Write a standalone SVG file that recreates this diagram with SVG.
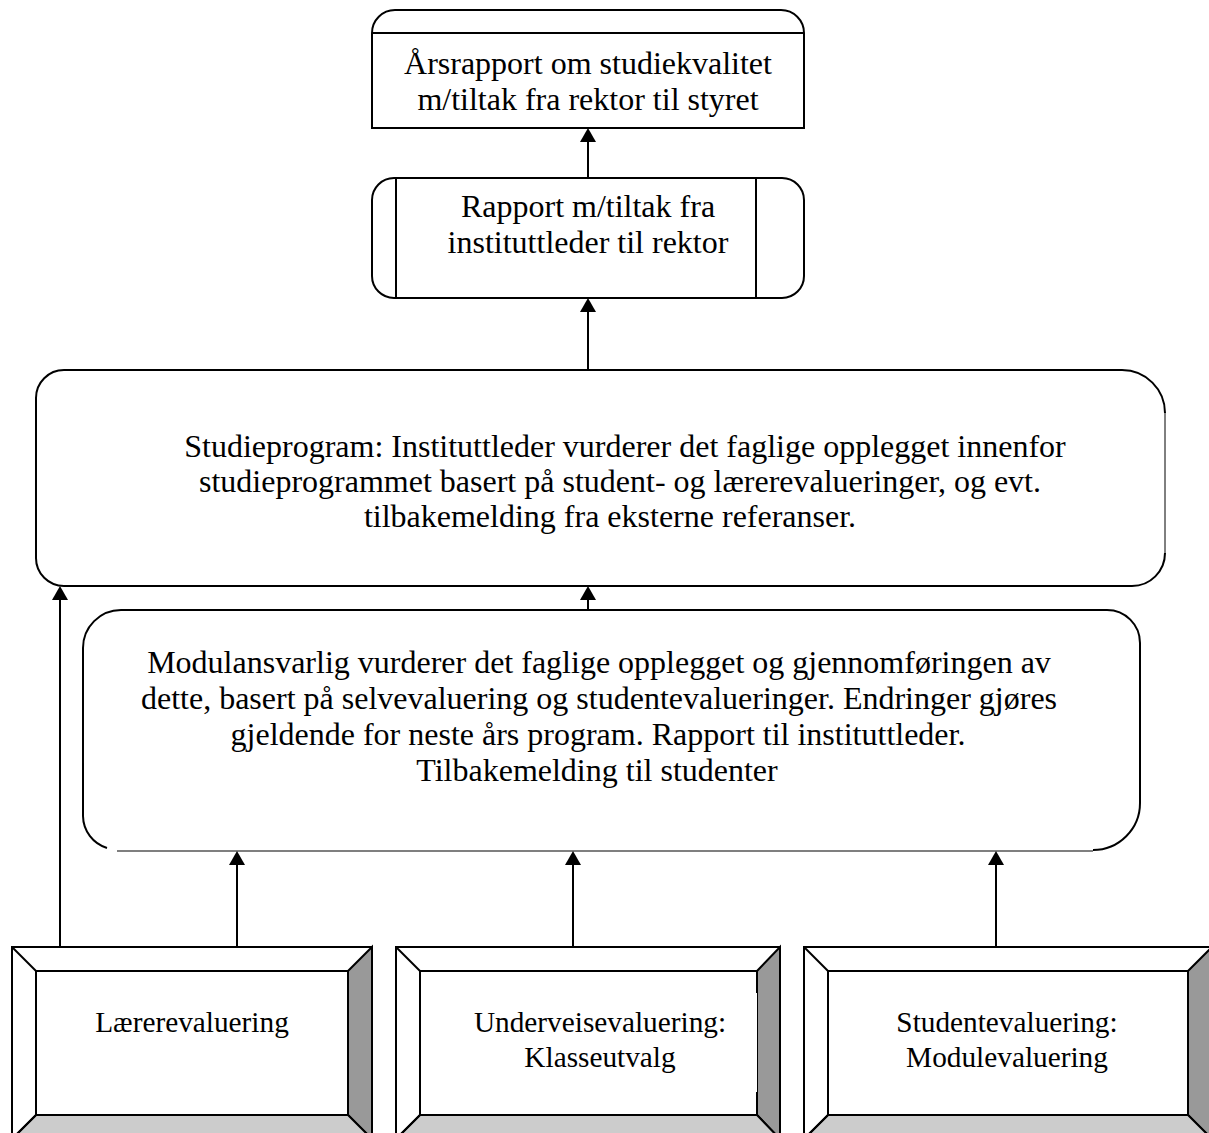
<svg xmlns="http://www.w3.org/2000/svg" width="1209" height="1133" viewBox="0 0 1209 1133">
<defs>
<style>
.t{font-family:"Liberation Serif","Times New Roman",serif;fill:#000;text-anchor:middle}
.s32{font-size:32px}
.s29{font-size:29.3px}
.box{fill:#fff;stroke:#000;stroke-width:2}
.ln{fill:none;stroke:#000;stroke-width:2}
</style>
</defs>
<rect width="1209" height="1133" fill="#fff"/>

<g id="connectors">
<line class="ln" x1="588" y1="178" x2="588" y2="141"/>
<path d="M580,142 L588,128 L596,142 Z"/>
<line class="ln" x1="588" y1="370" x2="588" y2="311"/>
<path d="M580,312 L588,298 L596,312 Z"/>
<line class="ln" x1="588" y1="610" x2="588" y2="599"/>
<path d="M580,600 L588,586 L596,600 Z"/>
<line class="ln" x1="60" y1="947" x2="60" y2="599"/>
<path d="M52,600 L60,586 L68,600 Z"/>
<line class="ln" x1="237" y1="947" x2="237" y2="864"/>
<path d="M229,865 L237,851 L245,865 Z"/>
<line class="ln" x1="573" y1="947" x2="573" y2="864"/>
<path d="M565,865 L573,851 L581,865 Z"/>
<line class="ln" x1="996" y1="947" x2="996" y2="864"/>
<path d="M988,865 L996,851 L1004,865 Z"/>
</g>

<g id="node-aarsrapport">
<path class="box" d="M372,128 V33 A23,23 0 0 1 395,10 H781 A23,23 0 0 1 804,33 V128 Z"/>
<line class="ln" x1="372" y1="33" x2="804" y2="33"/>
<text class="t s32" x="588" y="74">Årsrapport om studiekvalitet</text>
<text class="t s32" x="588" y="110">m/tiltak fra rektor til styret</text>
</g>

<g id="node-rapport">
<rect class="box" x="372" y="178" width="432" height="120" rx="22"/>
<line class="ln" x1="396" y1="178" x2="396" y2="298"/>
<line class="ln" x1="756" y1="178" x2="756" y2="298"/>
<text class="t s32" x="588" y="217">Rapport m/tiltak fra</text>
<text class="t s32" x="588" y="253">instituttleder til rektor</text>
</g>

<g id="node-studieprogram">
<path class="box" d="M1165,553 A33,33 0 0 1 1132,586 H64 A28,28 0 0 1 36,558 V398 A28,28 0 0 1 64,370 H1122 A43,43 0 0 1 1165,413"/>
<line x1="1165" y1="412" x2="1165" y2="554" stroke="#000" stroke-width="1"/>
<text class="t s32" x="625" y="457">Studieprogram: Instituttleder vurderer det faglige opplegget innenfor</text>
<text class="t s32" x="620" y="492">studieprogrammet basert på student- og lærerevalueringer, og evt.</text>
<text class="t s32" x="610" y="527">tilbakemelding fra eksterne referanser.</text>
</g>

<g id="node-modulansvarlig">
<path d="M117,850 H1093 A47,47 0 0 0 1140,803 V643 A33,33 0 0 0 1107,610 H121 A38,38 0 0 0 83,648 V816 A34,34 0 0 0 117,850 Z" fill="#fff"/>
<path class="ln" d="M107,848 A34,34 0 0 1 83,816 V648 A38,38 0 0 1 121,610 H1107 A33,33 0 0 1 1140,643 V803 A47,47 0 0 1 1093,850"/>
<line x1="117" y1="851" x2="1093" y2="851" stroke="#000" stroke-width="1.2"/>
<text class="t s32" x="599" y="673">Modulansvarlig vurderer det faglige opplegget og gjennomføringen av</text>
<text class="t s32" x="599" y="709">dette, basert på selvevaluering og studentevalueringer. Endringer gjøres</text>
<text class="t s32" x="598" y="745">gjeldende for neste års program. Rapport til instituttleder.</text>
<text class="t s32" x="597" y="781">Tilbakemelding til studenter</text>
</g>

<g id="node-laerer">
<rect x="12" y="947" width="360" height="192" fill="#fff" stroke="#000" stroke-width="2"/>
<path d="M348,971 L372,947 L372,1139 L348,1115 Z" fill="#999" stroke="#000" stroke-width="2"/>
<path d="M36,1115 L348,1115 L372,1139 L12,1139 Z" fill="#ccc" stroke="#000" stroke-width="2"/>
<line class="ln" x1="12" y1="947" x2="36" y2="971"/>
<line class="ln" x1="12" y1="1139" x2="36" y2="1115"/>
<rect class="box" x="36" y="971" width="312" height="144"/>
<text class="t s29" x="192" y="1032">Lærerevaluering</text>
</g>

<g id="node-underveis">
<rect x="396" y="947" width="384" height="192" fill="#fff" stroke="#000" stroke-width="2"/>
<path d="M757,971 L780,947 L780,1139 L757,1115 Z" fill="#999" stroke="#000" stroke-width="2"/>
<path d="M420,1115 L757,1115 L780,1139 L396,1139 Z" fill="#ccc" stroke="#000" stroke-width="2"/>
<line class="ln" x1="396" y1="947" x2="420" y2="971"/>
<line class="ln" x1="396" y1="1139" x2="420" y2="1115"/>
<path d="M757,993 V971 H420 V1115 H757 V1092" fill="#fff" stroke="#000" stroke-width="2"/>
<text class="t s29" x="600" y="1032">Underveisevaluering:</text>
<text class="t s29" x="600" y="1067">Klasseutvalg</text>
</g>

<g id="node-student">
<rect x="804" y="947" width="408" height="192" fill="#fff" stroke="#000" stroke-width="2"/>
<path d="M1188,971 L1212,947 L1212,1139 L1188,1115 Z" fill="#999" stroke="#000" stroke-width="2"/>
<path d="M828,1115 L1188,1115 L1212,1139 L804,1139 Z" fill="#ccc" stroke="#000" stroke-width="2"/>
<line class="ln" x1="804" y1="947" x2="828" y2="971"/>
<line class="ln" x1="804" y1="1139" x2="828" y2="1115"/>
<rect class="box" x="828" y="971" width="360" height="144"/>
<text class="t s29" x="1007" y="1032">Studentevaluering:</text>
<text class="t s29" x="1007" y="1067">Modulevaluering</text>
</g>
</svg>
